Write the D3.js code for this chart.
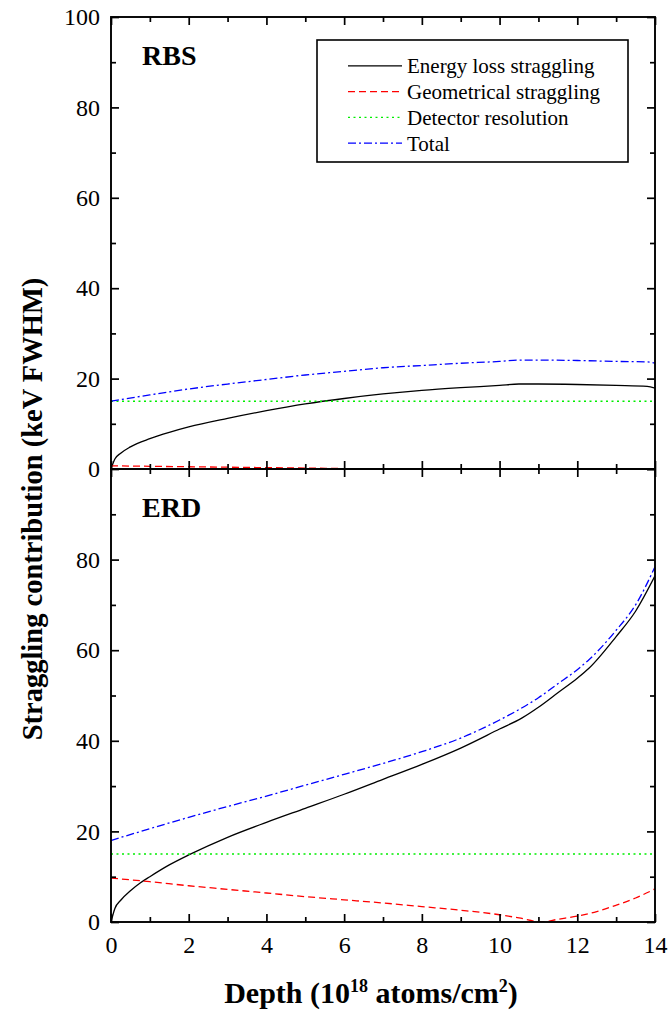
<!DOCTYPE html>
<html>
<head>
<meta charset="utf-8">
<script src="https://cdn.jsdelivr.net/npm/d3@7"></script>
<style>
  html, body { margin: 0; padding: 0; background: #fff; }
  svg { display: block; }
  svg text { font-family: "Liberation Serif", "Times New Roman", serif !important; fill: #000; }
</style>
</head>
<body>
<svg id="chart" width="670" height="1016"></svg>
<script>
// ---------------- DATA ----------------
const panelNames = ["RBS", "ERD"];
const seriesNames = ["Energy loss straggling", "Geometrical straggling", "Detector resolution", "Total"];
const xTicksMajor = [0, 2, 4, 6, 8, 10, 12, 14];
const xTicksMinor = [1, 3, 5, 7, 9, 11, 13];
const yTicksMajor = [0, 20, 40, 60, 80, 100];
const yTicksMinor = [10, 30, 50, 70, 90];

// RBS panel  [depth (1e18 atoms/cm2), keV FWHM]
const rbsEnergy = [[0,0],[0.1,2.2],[0.25,3.5],[0.5,4.9],[1,6.7],[1.5,8.1],[2,9.3],[3,11.2],[4,12.9],[5,14.4],[6,15.6],[7,16.6],[8,17.4],[9,18.0],[10,18.5],[10.5,18.8],[11,18.8],[12,18.7],[13,18.5],[13.8,18.3],[14,17.9]];
const rbsGeom   = [[0,0.7],[1,0.6],[2,0.5],[3,0.4],[4,0.3],[5,0.2],[6,0.1],[7,0.03],[8,0],[10,0],[12,0],[14,0]];
const rbsDet    = [[0,15],[14,15]];
const rbsTotal  = [[0,15.0],[1,16.4],[2,17.7],[3,18.8],[4,19.8],[5,20.8],[6,21.6],[7,22.4],[8,22.9],[9,23.4],[10,23.8],[10.5,24.1],[11,24.1],[12,24.0],[13,23.8],[13.8,23.7],[14,23.4]];

// ERD panel
const erdEnergy = [[0,0],[0.1,3.0],[0.25,4.8],[0.5,6.9],[0.75,8.6],[1,10.0],[1.5,12.6],[2,14.8],[3,18.7],[4,22.0],[5,25.1],[6,28.2],[7,31.5],[8,34.8],[9,38.4],[10,42.6],[10.57,45.0],[11,47.4],[11.5,50.6],[12,53.8],[12.3,56.0],[13,63.0],[13.5,68.6],[14,76.4]];
const erdGeom   = [[0,9.7],[1,8.9],[2,8.0],[3,7.2],[4,6.4],[5,5.6],[6,4.9],[7,4.2],[8,3.4],[9,2.6],[10,1.6],[10.5,0.9],[11.1,0],[11.5,0.6],[12,1.3],[12.5,2.3],[13,3.7],[13.5,5.3],[14,7.3]];
const erdDet    = [[0,15],[14,15]];
const erdTotal  = [[0,18.0],[1,20.6],[2,23.1],[3,25.5],[4,27.8],[5,30.2],[6,32.6],[7,35.0],[8,37.6],[9,40.6],[10,44.6],[10.5,46.9],[11,49.5],[11.5,52.6],[12,55.7],[12.3,57.9],[13,64.4],[13.5,70.0],[14,78.4]];

const xLabel = { main: "Depth (10", sup1: "18", mid: " atoms/cm", sup2: "2", end: ")" };
const yLabel = "Straggling contribution (keV FWHM)";

// ---------------- LAYOUT / STYLE ----------------
const FONT = "'Liberation Serif', 'Times New Roman', serif";
const X0 = 111, X1 = 655;
const panels = [
  { name: panelNames[0], top: 17, bottom: 469, series: [rbsEnergy, rbsGeom, rbsDet, rbsTotal], labels: yTicksMajor, xLabels: false },
  { name: panelNames[1], top: 469, bottom: 922, series: [erdEnergy, erdGeom, erdDet, erdTotal], labels: yTicksMajor.filter(d => d < 100), xLabels: true }
];
const styles = [
  { color: "#000000", dash: null, width: 1.3 },
  { color: "#ff0000", dash: "7,4", width: 1.3 },
  { color: "#00ee00", dash: "2,3.5", width: 1.4 },
  { color: "#0000ff", dash: "8,3,2,3", width: 1.3 }
];

const svg = d3.select("#chart");
const x = d3.scaleLinear().domain([0, 14]).range([X0, X1]);

const MAJ = 8, MIN = 5;
function styleAxis(g, labelled) {
  g.attr("font-family", FONT).attr("font-size", 24);
  g.select(".domain").remove();
  g.selectAll(".tick line").attr("stroke", "#000").attr("stroke-width", 1.7);
  g.selectAll(".tick text").attr("font-family", FONT).attr("font-size", 24);
  if (!labelled) g.selectAll(".tick text").remove();
}

panels.forEach((p, i) => {
  const y = d3.scaleLinear().domain([0, 100]).range([p.bottom, p.top]);
  const g = svg.append("g");

  const clipId = "clip" + i;
  svg.append("clipPath").attr("id", clipId)
    .append("rect").attr("x", X0).attr("y", p.top).attr("width", X1 - X0).attr("height", p.bottom - p.top);

  // curves
  const line = d3.line().x(d => x(d[0])).y(d => y(d[1])).curve(d3.curveMonotoneX);
  const cg = g.append("g").attr("clip-path", `url(#${clipId})`);
  p.series.forEach((s, k) => {
    cg.append("path").datum(s)
      .attr("d", line)
      .attr("fill", "none")
      .attr("stroke", styles[k].color)
      .attr("stroke-width", styles[k].width)
      .attr("stroke-dasharray", styles[k].dash);
  });

  // axes: left
  g.append("g").attr("transform", `translate(${X0},0)`)
    .call(d3.axisLeft(y).tickValues(p.labels).tickSize(-MAJ).tickPadding(11).tickFormat(d3.format("d")))
    .call(a => styleAxis(a, true));
  g.append("g").attr("transform", `translate(${X0},0)`)
    .call(d3.axisLeft(y).tickValues(yTicksMinor).tickSize(-MIN).tickFormat(""))
    .call(a => styleAxis(a, false));
  // right
  g.append("g").attr("transform", `translate(${X1},0)`)
    .call(d3.axisRight(y).tickValues(yTicksMajor).tickSize(-MAJ).tickFormat(""))
    .call(a => styleAxis(a, false));
  g.append("g").attr("transform", `translate(${X1},0)`)
    .call(d3.axisRight(y).tickValues(yTicksMinor).tickSize(-MIN).tickFormat(""))
    .call(a => styleAxis(a, false));
  // top
  g.append("g").attr("transform", `translate(0,${p.top})`)
    .call(d3.axisTop(x).tickValues(xTicksMajor).tickSize(-MAJ).tickFormat(""))
    .call(a => styleAxis(a, false));
  g.append("g").attr("transform", `translate(0,${p.top})`)
    .call(d3.axisTop(x).tickValues(xTicksMinor).tickSize(-MIN).tickFormat(""))
    .call(a => styleAxis(a, false));
  // bottom
  g.append("g").attr("transform", `translate(0,${p.bottom})`)
    .call(d3.axisBottom(x).tickValues(xTicksMajor).tickSize(-MAJ).tickPadding(14).tickFormat(d3.format("d")))
    .call(a => styleAxis(a, p.xLabels));
  g.append("g").attr("transform", `translate(0,${p.bottom})`)
    .call(d3.axisBottom(x).tickValues(xTicksMinor).tickSize(-MIN).tickFormat(""))
    .call(a => styleAxis(a, false));

  // frame
  g.append("rect").attr("x", X0).attr("y", p.top).attr("width", X1 - X0).attr("height", p.bottom - p.top)
    .attr("fill", "none").attr("stroke", "#000").attr("stroke-width", 1.9);

  // panel title
  g.append("text").attr("x", X0 + 31).attr("y", p.top + 48)
    .attr("font-family", FONT).attr("font-size", 28).attr("font-weight", "bold").text(p.name);
});

// legend
const lg = svg.append("g");
lg.append("rect").attr("x", 317).attr("y", 40).attr("width", 311).attr("height", 122)
  .attr("fill", "#fff").attr("stroke", "#000").attr("stroke-width", 1.6);
seriesNames.forEach((n, k) => {
  const by = 73.3 + k * 25.8;
  lg.append("line").attr("x1", 348).attr("x2", 402).attr("y1", by - 7.5).attr("y2", by - 7.5)
    .attr("stroke", styles[k].color).attr("stroke-width", styles[k].width)
    .attr("stroke-dasharray", styles[k].dash);
  lg.append("text").attr("x", 407).attr("y", by).attr("font-family", FONT).attr("font-size", 21).text(n);
});

// axis titles
const xt = svg.append("text").attr("x", 371).attr("y", 1003).attr("text-anchor", "middle")
  .attr("font-family", FONT).attr("font-size", 30).attr("font-weight", "bold");
xt.append("tspan").text(xLabel.main);
xt.append("tspan").attr("dy", -11).attr("font-size", 18).text(xLabel.sup1);
xt.append("tspan").attr("dy", 11).text(xLabel.mid);
xt.append("tspan").attr("dy", -11).attr("font-size", 18).text(xLabel.sup2);
xt.append("tspan").attr("dy", 11).text(xLabel.end);

svg.append("text").attr("transform", "translate(42,509) rotate(-90)").attr("text-anchor", "middle")
  .attr("font-family", FONT).attr("font-size", 28.5).attr("font-weight", "bold").text(yLabel);
</script>
</body>
</html>
